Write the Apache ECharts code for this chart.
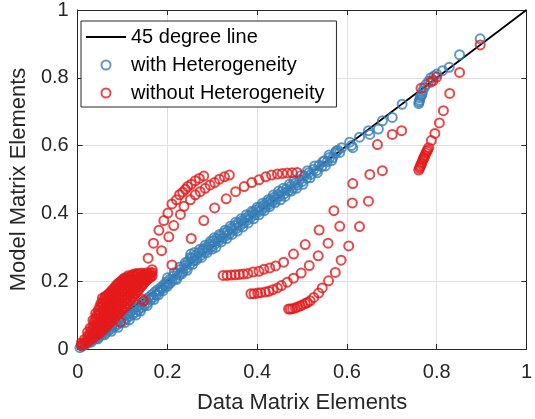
<!DOCTYPE html>
<html><head><meta charset="utf-8">
<script src="https://cdn.jsdelivr.net/npm/echarts@6/dist/echarts.min.js"></script>
<style>html,body{margin:0;padding:0;background:#fff}#chart{width:535px;height:419px}</style>
</head><body><div id="chart"></div>
<script>
const lineLabel = '45 degree line';
const blueLabel = 'with Heterogeneity';
const redLabel = 'without Heterogeneity';
const xName = 'Data Matrix Elements';
const yName = 'Model Matrix Elements';
const tickValues = [0, 0.2, 0.4, 0.6, 0.8, 1];

const diagonal = [[0, 0], [1, 1]];

const withHetero = [
  [0.005,0.004],[0.01,0.008],[0.012,0.012],[0.018,0.014],[0.02,0.02],[0.025,0.02],[0.028,0.027],[0.032,0.025],
  [0.035,0.033],[0.04,0.03],[0.042,0.04],[0.047,0.036],[0.05,0.046],[0.054,0.042],[0.058,0.052],[0.062,0.048],
  [0.065,0.06],[0.068,0.054],[0.072,0.066],[0.075,0.06],[0.078,0.072],[0.082,0.066],[0.085,0.08],[0.088,0.072],
  [0.092,0.086],[0.095,0.078],[0.098,0.094],[0.102,0.084],[0.105,0.1],[0.108,0.09],[0.112,0.104],[0.115,0.096],
  [0.118,0.11],[0.122,0.102],[0.125,0.118],[0.128,0.108],[0.132,0.124],[0.135,0.115],[0.138,0.13],[0.142,0.122],
  [0.145,0.138],[0.148,0.128],[0.152,0.145],[0.155,0.136],[0.158,0.152],[0.162,0.145],[0.165,0.16],[0.168,0.152],
  [0.172,0.168],[0.175,0.16],[0.178,0.175],[0.182,0.17],[0.185,0.182],[0.188,0.178],[0.192,0.19],[0.195,0.185],
  [0.198,0.198],[0.202,0.192],[0.205,0.205],
  [0.03,0.02],[0.045,0.03],[0.06,0.042],[0.075,0.052],[0.09,0.064],[0.105,0.078],[0.115,0.086],[0.13,0.1],
  [0.14,0.112],[0.155,0.128],[0.17,0.146],[0.18,0.16],[0.19,0.172],[0.2,0.185],
  [0.21,0.2],[0.213,0.215],[0.218,0.208],[0.222,0.224],[0.226,0.218],[0.23,0.235],[0.234,0.228],[0.238,0.246],
  [0.242,0.238],[0.246,0.258],[0.25,0.25],[0.251,0.27],[0.254,0.268],[0.258,0.26],[0.262,0.276],[0.266,0.268],
  [0.27,0.284],[0.274,0.276],[0.278,0.292],[0.28,0.294],[0.282,0.285],[0.286,0.3],[0.29,0.293],[0.294,0.31],
  [0.298,0.302],[0.302,0.319],[0.306,0.31],[0.31,0.326],[0.314,0.318],[0.318,0.334],[0.322,0.326],[0.326,0.342],
  [0.33,0.334],[0.334,0.348],[0.338,0.34],[0.342,0.356],[0.346,0.35],[0.35,0.364],[0.354,0.356],[0.358,0.372],
  [0.362,0.364],[0.366,0.378],[0.37,0.372],[0.374,0.386],[0.378,0.38],[0.382,0.394],[0.386,0.388],[0.39,0.402],
  [0.394,0.396],[0.398,0.41],[0.402,0.404],[0.406,0.418],[0.41,0.41],[0.414,0.424],[0.418,0.418],[0.422,0.432],
  [0.426,0.426],[0.43,0.44],[0.434,0.434],[0.438,0.448],[0.442,0.442],[0.446,0.456],[0.45,0.45],[0.455,0.464],
  [0.46,0.458],[0.465,0.472],[0.47,0.466],[0.475,0.48],[0.48,0.474],[0.485,0.49],[0.49,0.484],[0.495,0.5],
  [0.5,0.494],[0.505,0.51],[0.51,0.504],[0.515,0.52],[0.52,0.515],[0.526,0.53],[0.532,0.526],[0.538,0.542],
  [0.544,0.538],[0.55,0.555],[0.556,0.552],[0.562,0.566],[0.568,0.564],[0.574,0.578],[0.58,0.586],[0.588,0.594],
  [0.2,0.21],[0.206,0.194],[0.215,0.225],[0.22,0.205],[0.228,0.242],[0.232,0.222],[0.24,0.255],[0.244,0.232],
  [0.252,0.28],[0.256,0.25],[0.26,0.285],[0.264,0.262],[0.272,0.294],[0.276,0.27],[0.284,0.306],[0.288,0.284],
  [0.296,0.318],[0.3,0.295],[0.304,0.328],[0.308,0.3],[0.316,0.338],[0.32,0.316],[0.328,0.35],[0.332,0.326],
  [0.34,0.362],[0.344,0.338],[0.352,0.374],[0.356,0.348],[0.364,0.384],[0.368,0.36],[0.376,0.396],[0.38,0.372],
  [0.388,0.406],[0.392,0.384],[0.4,0.418],[0.404,0.396],[0.412,0.43],[0.416,0.408],[0.424,0.44],[0.428,0.42],
  [0.436,0.454],[0.44,0.432],[0.448,0.466],[0.452,0.44],[0.458,0.474],[0.462,0.45],[0.472,0.486],[0.476,0.466],
  [0.482,0.496],[0.488,0.474],[0.498,0.512],[0.502,0.486],[0.512,0.526],[0.518,0.505],[0.528,0.54],[0.534,0.52],
  [0.546,0.552],[0.552,0.54],[0.56,0.572],[0.566,0.556],[0.576,0.584],[0.584,0.58],
  [0.606,0.61],[0.613,0.594],[0.61,0.6],[0.628,0.625],[0.648,0.644],[0.651,0.633],[0.67,0.649],[0.679,0.673],
  [0.701,0.683],[0.723,0.722],
  [0.76,0.724],[0.761,0.729],[0.762,0.734],[0.763,0.741],[0.765,0.746],[0.767,0.751],[0.769,0.761],[0.772,0.771],
  [0.776,0.78],[0.782,0.79],[0.787,0.8],[0.794,0.805],[0.8,0.811],[0.813,0.821],[0.828,0.831],[0.851,0.868],
  [0.897,0.915]
];

const withoutHetero = [
  // dense cluster near the origin
  [0.008,0.01],[0.008,0.018],[0.015,0.015],[0.015,0.028],[0.022,0.02],[0.022,0.035],[0.022,0.05],
  [0.028,0.028],[0.028,0.045],[0.028,0.062],[0.034,0.032],[0.034,0.05],[0.034,0.068],[0.034,0.085],
  [0.04,0.038],[0.04,0.055],[0.04,0.072],[0.04,0.09],[0.04,0.105],
  [0.046,0.045],[0.046,0.062],[0.046,0.08],[0.046,0.098],[0.046,0.115],
  [0.052,0.05],[0.052,0.068],[0.052,0.086],[0.052,0.104],[0.052,0.122],[0.052,0.135],
  [0.058,0.058],[0.058,0.076],[0.058,0.094],[0.058,0.112],[0.058,0.13],[0.058,0.145],
  [0.064,0.066],[0.064,0.084],[0.064,0.102],[0.064,0.12],[0.064,0.138],[0.064,0.155],
  [0.07,0.075],[0.07,0.093],[0.07,0.111],[0.07,0.129],[0.07,0.147],[0.07,0.163],
  [0.076,0.082],[0.076,0.1],[0.076,0.118],[0.076,0.136],[0.076,0.154],[0.076,0.172],
  [0.082,0.09],[0.082,0.108],[0.082,0.126],[0.082,0.144],[0.082,0.162],[0.082,0.18],
  [0.088,0.1],[0.088,0.118],[0.088,0.136],[0.088,0.154],[0.088,0.172],[0.088,0.19],
  [0.094,0.108],[0.094,0.126],[0.094,0.144],[0.094,0.162],[0.094,0.18],[0.094,0.197],
  [0.1,0.116],[0.1,0.134],[0.1,0.152],[0.1,0.17],[0.1,0.188],[0.1,0.204],
  [0.106,0.125],[0.106,0.143],[0.106,0.161],[0.106,0.179],[0.106,0.197],[0.106,0.21],
  [0.112,0.134],[0.112,0.152],[0.112,0.17],[0.112,0.188],[0.112,0.205],[0.112,0.216],
  [0.118,0.145],[0.118,0.163],[0.118,0.181],[0.118,0.199],[0.118,0.214],
  [0.124,0.155],[0.124,0.173],[0.124,0.191],[0.124,0.208],[0.124,0.22],
  [0.13,0.165],[0.13,0.183],[0.13,0.2],[0.13,0.215],[0.13,0.223],
  [0.136,0.175],[0.136,0.192],[0.136,0.208],[0.136,0.222],
  [0.142,0.185],[0.142,0.2],[0.142,0.215],[0.142,0.224],
  [0.148,0.195],[0.148,0.21],[0.148,0.222],[0.154,0.203],[0.154,0.216],[0.154,0.225],
  [0.16,0.21],[0.16,0.222],[0.166,0.215],[0.166,0.226],
  [0.011,0.014],[0.018,0.022],[0.025,0.027],[0.025,0.042],[0.031,0.038],[0.031,0.056],[0.037,0.044],[0.037,0.062],
  [0.037,0.08],[0.043,0.048],[0.043,0.066],[0.043,0.084],[0.043,0.1],[0.049,0.054],[0.049,0.072],[0.049,0.09],
  [0.049,0.108],[0.049,0.125],[0.055,0.06],[0.055,0.078],[0.055,0.096],[0.055,0.114],[0.055,0.132],[0.055,0.15],
  [0.061,0.068],[0.061,0.086],[0.061,0.104],[0.061,0.122],[0.061,0.14],[0.061,0.155],[0.067,0.076],[0.067,0.094],
  [0.067,0.112],[0.067,0.13],[0.067,0.148],[0.067,0.16],[0.073,0.084],[0.073,0.102],[0.073,0.12],[0.073,0.138],
  [0.073,0.156],[0.073,0.168],[0.079,0.092],[0.079,0.11],[0.079,0.128],[0.079,0.146],[0.079,0.164],[0.079,0.176],
  [0.085,0.1],[0.085,0.118],[0.085,0.136],[0.085,0.154],[0.085,0.172],[0.085,0.186],[0.091,0.108],[0.091,0.126],
  [0.091,0.144],[0.091,0.162],[0.091,0.18],[0.091,0.194],[0.097,0.116],[0.097,0.134],[0.097,0.152],[0.097,0.17],
  [0.097,0.188],[0.097,0.2],[0.103,0.124],[0.103,0.142],[0.103,0.16],[0.103,0.178],[0.103,0.196],[0.103,0.208],
  [0.109,0.134],[0.109,0.152],[0.109,0.17],[0.109,0.188],[0.109,0.206],[0.115,0.142],[0.115,0.16],[0.115,0.178],
  [0.115,0.196],[0.115,0.212],[0.121,0.152],[0.121,0.17],[0.121,0.188],[0.121,0.206],[0.121,0.218],[0.127,0.162],
  [0.127,0.18],[0.127,0.198],[0.127,0.214],[0.133,0.172],[0.133,0.19],[0.133,0.206],[0.133,0.22],[0.139,0.182],
  [0.139,0.198],[0.139,0.212],[0.145,0.19],[0.145,0.205],[0.145,0.218],[0.151,0.2],[0.151,0.214],[0.157,0.208],
  [0.157,0.22],[0.163,0.214],[0.163,0.224],
  [0.143,0.147],[0.147,0.142],[0.095,0.08],
  // arc A
  [0.166,0.234],[0.157,0.268],[0.169,0.312],[0.181,0.35],[0.192,0.379],[0.201,0.401],[0.21,0.428],[0.22,0.44],
  [0.227,0.455],[0.234,0.463],[0.24,0.471],[0.245,0.479],[0.253,0.486],[0.262,0.496],[0.271,0.503],[0.281,0.51],
  // arc B
  [0.21,0.248],[0.187,0.29],[0.203,0.331],[0.214,0.364],[0.229,0.397],[0.237,0.421],[0.251,0.44],[0.262,0.455],
  [0.273,0.464],[0.284,0.474],[0.295,0.484],[0.305,0.491],[0.316,0.501],[0.327,0.508],[0.338,0.513],
  // arc C
  [0.253,0.326],[0.281,0.379],[0.305,0.416],[0.331,0.443],[0.352,0.464],[0.371,0.479],[0.388,0.491],[0.404,0.499],
  [0.419,0.508],[0.432,0.513],[0.445,0.516],[0.456,0.518],[0.467,0.519],[0.478,0.52],[0.489,0.521],
  // arc D
  [0.324,0.217],[0.333,0.217],[0.342,0.218],[0.351,0.219],[0.36,0.22],[0.369,0.221],[0.379,0.223],[0.391,0.227],
  [0.404,0.229],[0.415,0.235],[0.428,0.239],[0.441,0.245],[0.459,0.256],[0.481,0.28],[0.507,0.308],[0.538,0.351],
  [0.571,0.408],[0.613,0.488],
  // arc E
  [0.386,0.163],[0.393,0.163],[0.401,0.165],[0.408,0.166],[0.418,0.168],[0.426,0.17],[0.435,0.175],[0.445,0.18],
  [0.454,0.187],[0.467,0.197],[0.481,0.209],[0.498,0.224],[0.516,0.246],[0.536,0.275],[0.558,0.312],[0.584,0.362],
  [0.612,0.431],
  // arc F
  [0.47,0.118],[0.474,0.118],[0.479,0.119],[0.485,0.121],[0.49,0.124],[0.496,0.127],[0.501,0.13],[0.507,0.134],
  [0.512,0.137],[0.518,0.142],[0.526,0.152],[0.537,0.165],[0.545,0.18],[0.559,0.201],[0.574,0.226],[0.587,0.262],
  [0.604,0.304],[0.628,0.361],[0.648,0.436],
  // upper ends
  [0.651,0.515],[0.679,0.526],[0.668,0.603],[0.701,0.633],[0.722,0.644],
  // right cluster
  [0.76,0.528],[0.762,0.533],[0.763,0.537],[0.764,0.541],[0.766,0.546],[0.767,0.55],[0.769,0.557],[0.771,0.562],
  [0.772,0.566],[0.774,0.571],[0.776,0.578],[0.778,0.583],[0.78,0.587],[0.782,0.594],[0.788,0.615],[0.796,0.636],
  [0.806,0.667],[0.815,0.703],[0.829,0.754],[0.851,0.816],[0.897,0.897],
  [0.765,0.769],[0.787,0.787],[0.792,0.792],[0.8,0.802]
];

const axisColor = '#262626';
const fontFam = '"Liberation Sans", Arial, Helvetica, sans-serif';
const blueColor = '#377eb8';
const redColor = '#e41a1c';
const markerSize = 9;
const markerStroke = 2;

const chart = echarts.init(document.getElementById('chart'), null, {renderer: 'canvas'});

function mainAxis(name, pos, gap, margin) {
  return {
    type: 'value', position: pos, min: tickValues[0], max: tickValues[tickValues.length - 1],
    interval: tickValues[1] - tickValues[0],
    name: name, nameLocation: 'middle', nameGap: gap,
    nameTextStyle: {fontSize: 22, color: axisColor, fontFamily: fontFam},
    axisLine: {show: true, onZero: false, lineStyle: {color: axisColor, width: 1}},
    axisTick: {show: true, inside: true, length: 5, lineStyle: {color: axisColor, width: 1}},
    axisLabel: {fontSize: 20, color: axisColor, fontFamily: fontFam, margin: margin},
    splitLine: {show: true, lineStyle: {color: '#dfdfdf', width: 1}}
  };
}
function boxAxis(pos) {
  return {
    type: 'value', position: pos, min: tickValues[0], max: tickValues[tickValues.length - 1],
    interval: tickValues[1] - tickValues[0],
    axisLine: {show: true, onZero: false, lineStyle: {color: axisColor, width: 1}},
    axisTick: {show: true, inside: true, length: 5, lineStyle: {color: axisColor, width: 1}},
    axisLabel: {show: false},
    splitLine: {show: false}
  };
}

chart.setOption({
  animation: false,
  backgroundColor: '#fff',
  grid: {left: 76, right: 4, top: 8, bottom: 68, containLabel: false},
  xAxis: [mainAxis(xName, 'bottom', 43, 13), boxAxis('top')],
  yAxis: [mainAxis(yName, 'left', 42, 9), boxAxis('right')],
  legend: {
    orient: 'vertical', left: 81, top: 21,
    padding: [6, 12, 4, 5], itemGap: 8, itemWidth: 40, itemHeight: 9,
    backgroundColor: '#fff', borderColor: '#262626', borderWidth: 1,
    textStyle: {fontSize: 20, lineHeight: 20, color: '#000', fontFamily: fontFam},
    data: [
      {name: lineLabel, icon: 'path://M0,0 L40,0 L40,2 L0,2 Z', itemStyle: {color: '#000', borderWidth: 0}},
      {name: blueLabel, icon: 'circle', itemStyle: {color: 'rgba(0,0,0,0)', borderColor: blueColor, borderWidth: markerStroke}},
      {name: redLabel, icon: 'circle', itemStyle: {color: 'rgba(0,0,0,0)', borderColor: redColor, borderWidth: markerStroke}}
    ]
  },
  series: [
    {name: lineLabel, type: 'line', data: diagonal, symbol: 'none', showSymbol: false,
     lineStyle: {color: '#000', width: 1.8}, itemStyle: {color: '#000'}, z: 1, silent: true},
    {name: blueLabel, type: 'scatter', data: withHetero, symbol: 'circle', symbolSize: markerSize,
     itemStyle: {color: 'rgba(0,0,0,0)', borderColor: blueColor, borderWidth: markerStroke}, z: 2},
    {name: redLabel, type: 'scatter', data: withoutHetero, symbol: 'circle', symbolSize: markerSize,
     itemStyle: {color: 'rgba(0,0,0,0)', borderColor: redColor, borderWidth: markerStroke}, z: 3}
  ]
});
</script>
</body></html>
